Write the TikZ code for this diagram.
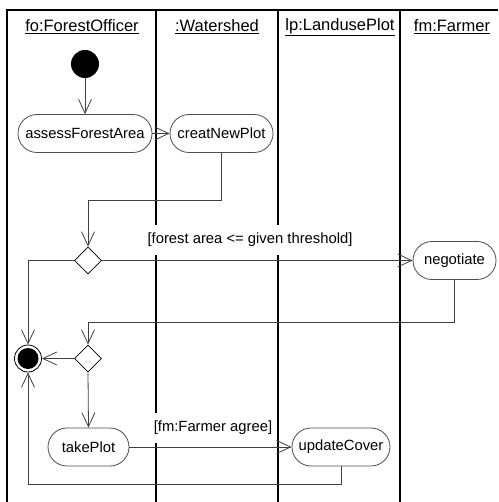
\documentclass[tikz,border=0pt]{standalone}
\usepackage{fontspec}
\setmainfont{Liberation Sans}
\usetikzlibrary{shapes.geometric,arrows.meta}
\begin{document}
\begin{tikzpicture}[x=1pt,y=-1pt,
  lane/.style={line width=1.1pt,black},
  conn/.style={line width=0.8pt,black!75},
  arr/.style={conn,-{Straight Barb[length=14pt,width=13pt,line width=0.8pt]}},
  act/.style={draw=black!70,line width=0.8pt,rectangle,rounded corners=19pt,minimum height=38pt,inner sep=0pt,font=\fontsize{14.8}{16}\selectfont},
  dec/.style={draw=black,line width=0.8pt,diamond,aspect=1,minimum size=27pt,inner sep=0pt},
  hdr/.style={font=\fontsize{16.5}{18}\selectfont,inner sep=0pt},
  guard/.style={fill=white,inner xsep=2pt,inner ysep=8pt,font=\fontsize{14.8}{16}\selectfont}]
\useasboundingbox (0,0) rectangle (498,502);
% frame and lanes
\draw[lane] (7,502) -- (7,10) -- (498,10);
\draw[lane] (156,10) -- (156,502);
\draw[lane] (278,10) -- (278,502);
\draw[lane] (400,10) -- (400,502);
% headers
\node[hdr] (h1) at (82,27) {\underline{fo:ForestOfficer}};
\node[hdr] (h2) at (217,27) {\underline{:Watershed}};
\node[hdr] (h3) at (340,27) {\underline{lp:LandusePlot}};
\node[hdr] (h4) at (452,27) {\underline{fm:Farmer}};
% guards
\node[guard] (g1) at (250,240) {[forest area <= given threshold]};
\node[guard] (g2) at (213,428) {[fm:Farmer agree]};
% nodes
\node[circle,fill=black,minimum size=28pt,inner sep=0pt] (init) at (85,64) {};
\node[act,minimum width=134pt] (assess) at (85,133.5) {assessForestArea};
\node[act,minimum width=103pt] (creat) at (221.5,133.5) {creatNewPlot};
\node[dec] (d1) at (88,260.5) {};
\node[act,minimum width=83pt] (neg) at (454.5,260.5) {negotiate};
\node[circle,draw=black,line width=0.8pt,minimum size=27pt,inner sep=0pt] (fin) at (28,358.5) {};
\node[circle,fill=black,minimum size=21pt,inner sep=0pt] (finin) at (28,358.5) {};
\node[dec] (d2) at (88,358.5) {};
\node[act,minimum width=81pt] (take) at (88.5,447) {takePlot};
\node[act,minimum width=98pt] (upd) at (341,447) {updateCover};
\coordinate (j1) at (88,200);
\coordinate (j2) at (88,322);
\coordinate (j3) at (28,484);
% connectors
\draw[arr] (init) -- (assess);
\draw[arr] (assess) -- (creat);
\draw[arr] (creat.south) |- (j1) -- (d1.north);
\draw[arr] (d1.east) -- (neg.west);
\draw[arr] (d1.west) -| (fin.north);
\draw[arr] (neg.south) |- (j2) -- (d2.north);
\draw[arr] (d2.west) -- (fin.east);
\draw[arr] (d2.south) -- (take.north);
\draw[arr] (take.east) -- (upd.west);
\draw[arr] (upd.south) |- (j3) -- (fin.south);
\end{tikzpicture}
\end{document}
